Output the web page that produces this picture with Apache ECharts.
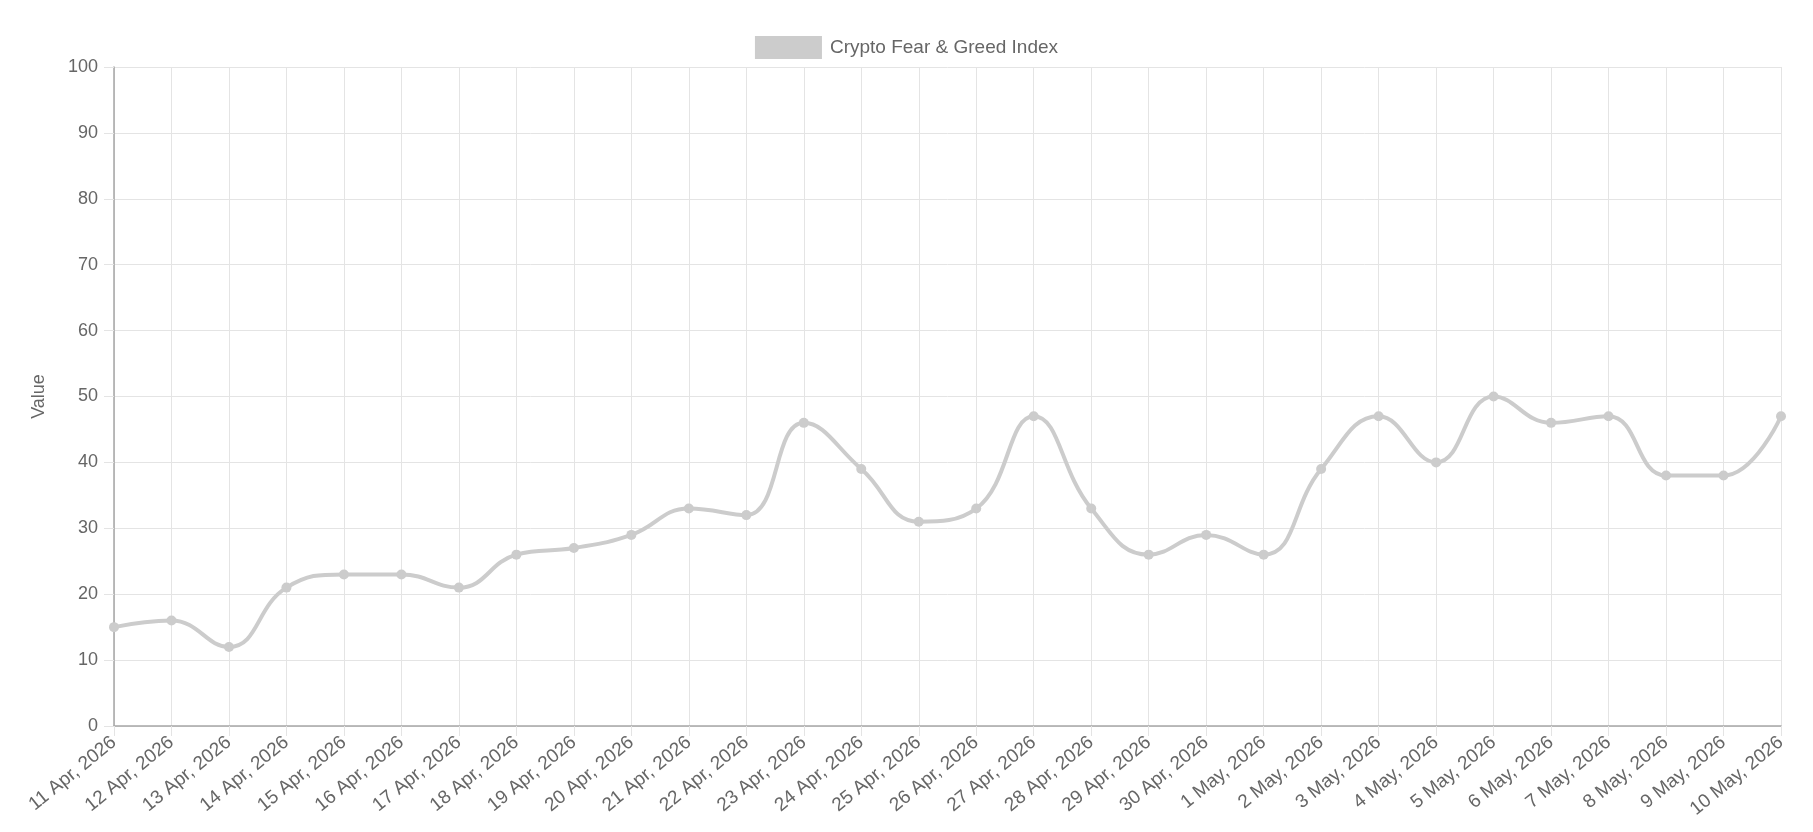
<!DOCTYPE html>
<html>
<head>
<meta charset="UTF-8">
<title>Crypto Fear & Greed Index</title>
<script src="https://cdn.jsdelivr.net/npm/echarts@6/dist/echarts.min.js"></script>
<style>
  html, body { margin: 0; padding: 0; background: #fff; }
  #main { width: 1813px; height: 832px; }
</style>
</head>
<body>
<div id="main"></div>
<script>
// data
var dates = ['11 Apr, 2026', '12 Apr, 2026', '13 Apr, 2026', '14 Apr, 2026', '15 Apr, 2026',
  '16 Apr, 2026', '17 Apr, 2026', '18 Apr, 2026', '19 Apr, 2026', '20 Apr, 2026',
  '21 Apr, 2026', '22 Apr, 2026', '23 Apr, 2026', '24 Apr, 2026', '25 Apr, 2026',
  '26 Apr, 2026', '27 Apr, 2026', '28 Apr, 2026', '29 Apr, 2026', '30 Apr, 2026',
  '1 May, 2026', '2 May, 2026', '3 May, 2026', '4 May, 2026', '5 May, 2026',
  '6 May, 2026', '7 May, 2026', '8 May, 2026', '9 May, 2026', '10 May, 2026'];
var fearGreed = [15, 16, 12, 21, 23, 23, 21, 26, 27, 29,
  33, 32, 46, 39, 31, 33, 47, 33, 26, 29,
  26, 39, 47, 40, 50, 46, 47, 38, 38, 47];

var font = "'Helvetica Neue', Helvetica, Arial, 'Liberation Sans', sans-serif";
var lineColor = '#cccccc';
var gridColor = '#e4e4e4';
var axisColor = '#a6a6a6';

var chart = echarts.init(document.getElementById('main'));

chart.setOption({
  animation: false,
  backgroundColor: '#fff',
  textStyle: { fontFamily: font },
  legend: {
    top: 31,
    left: 'center',
    icon: 'rect',
    itemWidth: 67,
    itemHeight: 23,
    textStyle: { color: '#666', fontSize: 19, fontFamily: font, padding: [0, 0, 0, 3] },
    data: ['Crypto Fear & Greed Index']
  },
  grid: { left: 114, right: 32, top: 67, bottom: 106 },
  xAxis: {
    type: 'category',
    data: dates,
    boundaryGap: false,
    axisLine: { show: true, lineStyle: { color: axisColor, width: 1.5 } },
    axisTick: { show: true, length: 10, alignWithLabel: true, lineStyle: { color: gridColor } },
    axisLabel: { interval: 0, rotate: 39, margin: 14, color: '#666', fontSize: 19, fontFamily: font },
    splitLine: { show: true, lineStyle: { color: gridColor, width: 1 } }
  },
  yAxis: {
    type: 'value',
    min: 0,
    max: 100,
    interval: 10,
    name: 'Value',
    nameLocation: 'middle',
    nameGap: 66,
    nameTextStyle: { color: '#666', fontSize: 18, fontFamily: font },
    axisLine: { show: true, lineStyle: { color: axisColor, width: 1.5 } },
    axisTick: { show: true, length: 10, lineStyle: { color: gridColor } },
    axisLabel: { margin: 16, color: '#666', fontSize: 18, fontFamily: font },
    splitLine: { show: true, lineStyle: { color: gridColor, width: 1 } }
  },
  series: [{
    name: 'Crypto Fear & Greed Index',
    type: 'line',
    data: fearGreed,
    smooth: 0.45,
    symbol: 'circle',
    symbolSize: 10,
    itemStyle: { color: lineColor },
    lineStyle: { color: lineColor, width: 4 }
  }]
});
</script>
</body>
</html>
